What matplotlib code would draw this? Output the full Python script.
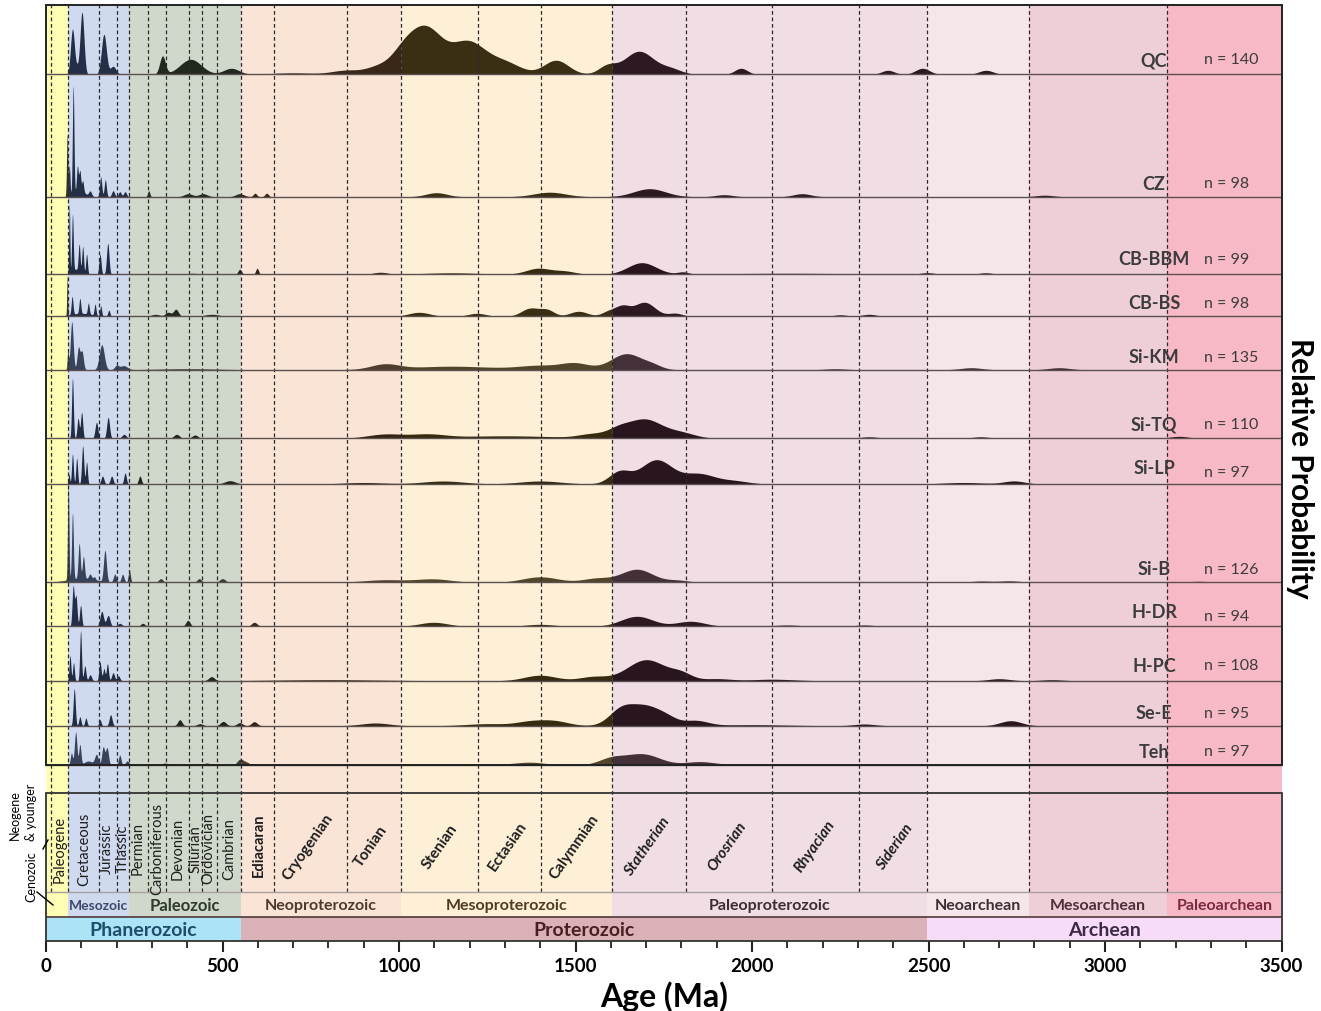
import numpy as np
import matplotlib.pyplot as plt
from matplotlib.patches import Rectangle
from matplotlib.lines import Line2D

plt.rcParams['font.family'] = ['Lato', 'DejaVu Sans']

# samples and number of dated grains
samples = ['QC', 'CZ', 'CB-BBM', 'CB-BS', 'Si-KM', 'Si-TQ', 'Si-LP', 'Si-B',
           'H-DR', 'H-PC', 'Se-E', 'Teh']
counts = [140, 98, 99, 98, 135, 110, 97, 126, 94, 108, 95, 97]

# age populations per sample: (age Ma, relative probability, spread Ma)
qc_peaks = [(75, 45, 5.5), (88, 6, 5), (102, 62, 5.5), (164, 40, 7), (190, 8, 8),
            (330, 18, 8), (410, 15, 30), (525, 6, 22), (700, 1.5, 60), (850, 4, 40),
            (940, 7, 35), (1010, 18, 35), (1076, 44, 45), (1195, 32, 50),
            (1300, 11, 45), (1445, 14, 35), (1590, 8, 25), (1680, 23, 42),
            (1770, 5, 30), (1969, 6, 18), (2385, 4, 18), (2483, 6, 20), (2663, 4, 20)]
cz_peaks = [(60, 62, 1.8), (66, 30, 2), (77, 108, 2.2), (89, 25, 2.5), (96, 20, 2.5),
            (104, 11, 2.5), (95, 6, 15), (125, 5, 4), (155, 20, 3), (168, 17, 3),
            (190, 6, 4), (209, 5, 4), (224, 5, 4), (291, 6, 3), (403, 3, 12),
            (445, 3, 12), (549, 3, 12), (592, 3.5, 5), (625, 3.5, 5), (1106, 4, 30),
            (1427, 4.5, 45), (1710, 8, 45), (1921, 2, 25), (2142, 3, 25), (2829, 1.5, 25)]
cbbbm_peaks = [(66, 70, 1.5), (75, 57, 2.2), (85, 5, 10), (94, 27, 2.5), (104, 27, 2.5),
               (115, 20, 2.5), (153, 20, 3), (175, 31, 3.5), (415, 1, 20), (549, 5, 5),
               (598, 6, 4), (947, 2, 20), (1150, 1.5, 80), (1395, 6, 35), (1470, 3, 30),
               (1688, 11.5, 40), (1804, 2, 15), (2100, 1, 200), (2497, 1.5, 20),
               (2662, 1.5, 20)]
cbbs_peaks = [(60, 40, 1.2), (74, 18, 2.5), (96, 15, 2.5), (100, 3, 30), (120, 11, 2.5),
              (139, 11, 2.5), (155, 10, 2.5), (178, 6, 3), (310, 2, 12), (346, 4, 8),
              (368, 7, 7), (470, 2, 20), (1057, 4, 30), (1221, 3, 25), (1372, 8, 25),
              (1420, 6, 20), (1509, 5, 25), (1595, 5, 20), (1633, 9, 20), (1695, 14, 30),
              (1783, 3, 20), (2250, 1.5, 20), (2332, 2, 20)]
sikm_peaks = [(62, 18, 2), (73, 48, 4), (92, 22, 4), (102, 18, 4), (158, 25, 7),
              (200, 4, 6), (220, 4, 10), (400, 1, 80), (960, 5, 40), (1150, 3.5, 120),
              (1400, 4, 60), (1500, 6, 40), (1645, 16, 45), (1720, 3, 25),
              (2236, 1, 30), (2621, 2, 30), (2870, 2, 30)]
sitq_peaks = [(75, 60, 2.5), (91, 20, 3), (101, 26, 3), (143, 16, 4), (176, 21, 4),
              (221, 4, 6), (370, 4, 8), (422, 3.3, 8), (960, 4, 50), (1080, 3.5, 50),
              (1300, 2.5, 150), (1550, 4, 40), (1620, 6, 30), (1695, 19, 50),
              (1800, 5, 40), (2332, 1.5, 25), (2648, 1.5, 25), (3210, 2, 25)]
silp_peaks = [(65, 10, 2), (75, 30, 2.5), (87, 26, 2.5), (104, 38, 3), (115, 22, 2.5),
              (160, 8, 4), (186, 8, 4), (224, 11, 3.5), (266, 8, 4), (521, 3.3, 15),
              (900, 1.5, 60), (1125, 3, 60), (1400, 3, 60), (1625, 12, 30),
              (1729, 24, 45), (1850, 10, 45), (1950, 3, 40), (2600, 1.5, 60), (2743, 3, 30)]
sib_peaks = [(63, 95, 2), (75, 66, 2.5), (94, 35, 3), (106, 22, 3), (100, 4, 40),
             (125, 5, 4), (137, 3, 3), (167, 31, 4), (195, 8, 4), (217, 8, 4),
             (236, 12, 3), (325, 3.7, 6), (434, 3.7, 6), (500, 3.7, 8), (960, 2.5, 60),
             (1098, 3.3, 50), (1400, 5.5, 50), (1560, 4, 40), (1674, 13, 45),
             (1790, 2, 30), (2648, 1.3, 30), (2730, 1.5, 30), (3265, 1, 30)]
hdr_peaks = [(77, 40, 3), (85, 30, 3), (98, 21, 3), (158, 15, 5), (176, 11, 5),
             (209, 3, 6), (274, 3, 6), (402, 6, 6), (590, 4, 8), (1098, 4, 40),
             (1400, 2, 40), (1674, 10, 45), (1826, 5, 40), (2099, 1.3, 40), (2318, 1.3, 30)]
hpc_peaks = [(68, 25, 2.5), (78, 18, 2.5), (98, 50, 2.5), (110, 15, 3), (125, 6, 4),
             (153, 19, 3), (164, 12, 3), (174, 17, 3), (190, 8, 4), (205, 5, 4),
             (469, 4, 8), (800, 1, 150), (1400, 5.5, 45), (1550, 4, 40), (1701, 21, 55),
             (1800, 6, 30), (1900, 2, 40), (2058, 1.5, 60), (2700, 2, 30), (2850, 1, 30)]
see_peaks = [(80, 37, 3), (96, 9, 3), (113, 7.7, 3), (153, 6, 3), (183, 11, 4),
             (379, 6, 6), (436, 2, 8), (502, 4.3, 8), (549, 3, 8), (590, 4, 8),
             (933, 2.7, 40), (1250, 2, 60), (1372, 4, 40), (1441, 4.5, 40),
             (1630, 16, 35), (1700, 18, 40), (1760, 6, 30), (1840, 5, 35),
             (2000, 1, 100), (2318, 1.7, 30), (2733, 5, 30)]
teh_peaks = [(72, 12, 3), (84, 33, 3.5), (96, 20, 3), (120, 4, 12), (143, 10, 5),
             (162, 18, 4), (173, 17, 4), (209, 10, 3.5), (230, 4, 5), (294, 1, 10),
             (337, 2, 8), (455, 2, 10), (549, 5, 8), (565, 3, 10), (1100, 1.3, 200),
             (1372, 2.3, 40), (1600, 6, 35), (1688, 11, 50), (1852, 3, 40),
             (2100, 0.8, 200)]

all_peaks = [qc_peaks, cz_peaks, cbbbm_peaks, cbbs_peaks, sikm_peaks, sitq_peaks,
             silp_peaks, sib_peaks, hdr_peaks, hpc_peaks, see_peaks, teh_peaks]

# geological time scale (Ma)
era_edges = [0, 61, 236, 553, 1005, 1604, 2497, 2785, 3176, 3500]
era_names = ['', 'Mesozoic', 'Paleozoic', 'Neoproterozoic', 'Mesoproterozoic',
             'Paleoproterozoic', 'Neoarchean', 'Mesoarchean', 'Paleoarchean']
eon_edges = [0, 553, 2497, 3500]
eon_names = ['Phanerozoic', 'Proterozoic', 'Archean']
period_bounds = [14, 61, 151, 202, 236, 290, 341, 405, 442, 485, 553, 646, 853,
                 1005, 1225, 1403, 1604, 1812, 2056, 2302, 2497, 2785, 3176]
phan_periods = ['Paleogene', 'Cretaceous', 'Jurassic', 'Triassic', 'Permian',
                'Carboniferous', 'Devonian', 'Silurian', 'Ordovician', 'Cambrian']
phan_period_mid = [40, 108, 173, 218, 260, 314, 374, 425, 459, 518]
pc_periods = ['Cryogenian', 'Tonian', 'Stenian', 'Ectasian', 'Calymmian',
              'Statherian', 'Orosrian', 'Rhyacian', 'Siderian']
pc_period_mid = [742, 920, 1115, 1308, 1497, 1704, 1930, 2179, 2406]

# colours
era_colors = ['#fdfdb4', '#cfdaef', '#d0d8cb', '#f9e4d6', '#fdf0d6', '#f0dee4',
              '#f5e6e9', '#eecfd8', '#f8b9c7']
era_fill_colors = ['#24240a', '#17213a', '#141c12', '#2a1808', '#2b2004', '#1e0a12',
                   '#1e0a12', '#1e0a12', '#240a14']
era_text_colors = ['k', '#3b4a6b', '#2f3a2c', '#4d3a2e', '#4a3d22', '#3d2c33',
                   '#3a3034', '#4d2f3a', '#7a2a40']
era_text_sizes = [9, 10, 12, 11.5, 11.5, 11.5, 11.5, 11.5, 11.5]
eon_colors = ['#ade3f6', '#dab1b7', '#f7dcf7']
eon_text_colors = ['#1d4e6b', '#4a1f22', '#3d2b45']
fill_alpha = [0.93, 0.93, 0.95, 0.93, 0.82, 0.95, 0.95, 0.82, 0.93, 0.95, 0.95, 0.82]

# row layout (canvas pixel rows)
panel_top = 5.5
row_heights = [69.8, 122.4, 77.6, 42, 53.4, 68.6, 45.7, 98.3, 44, 54.4, 45, 39.3]
name_offsets = [14, 13, 15.5, 14, 13, 14.5, 16, 13.5, 14.5, 15.5, 13, 13.5]
n_offsets = [15, 13.5, 15.5, 13, 13, 14.5, 12, 13.5, 10.5, 15.5, 13, 13.5]
baselines = panel_top + np.cumsum(row_heights)
panel_bottom = baselines[-1]
ts_top, ts_era, ts_eon, ts_bottom = 794.5, 893.3, 917.7, 942.3

W, H = 1321, 1012
fig = plt.figure(figsize=(W / 100, H / 100), dpi=100)
ax = fig.add_axes([46 / W, 1 - ts_bottom / H, (1281.5 - 46) / W, (ts_bottom - panel_top) / H])
ax.set_xlim(0, 3500)
ax.set_ylim(ts_bottom, panel_top)
for s in ax.spines.values():
    s.set_visible(False)
ax.set_yticks([])

# coloured era bands behind everything
for i in range(len(era_names)):
    ax.add_patch(Rectangle((era_edges[i], panel_top), era_edges[i + 1] - era_edges[i],
                           ts_eon - panel_top, facecolor=era_colors[i], lw=0, zorder=0))
    if era_names[i]:
        ax.text((era_edges[i] + era_edges[i + 1]) / 2, (ts_era + ts_eon) / 2 + 0.5, era_names[i],
                ha='center', va='center', fontsize=era_text_sizes[i], fontweight='bold',
                color=era_text_colors[i], zorder=6)
for i in range(len(eon_names)):
    ax.add_patch(Rectangle((eon_edges[i], ts_eon), eon_edges[i + 1] - eon_edges[i],
                           ts_bottom - ts_eon, facecolor=eon_colors[i], lw=0, zorder=0))
    ax.text((eon_edges[i] + eon_edges[i + 1]) / 2, (ts_eon + ts_bottom) / 2 + 0.5, eon_names[i],
            ha='center', va='center', fontsize=14, fontweight='bold',
            color=eon_text_colors[i], zorder=6)

# period boundaries
for b in period_bounds:
    ax.plot([b, b], [panel_top, ts_era], color='#2a2a2a', lw=0.9, ls=(0, (3, 2.2)), zorder=4)

# probability curves, tinted by the era they fall in
ages = np.linspace(0, 3500, 7001)
for i, peaks in enumerate(all_peaks):
    dens = np.zeros_like(ages)
    for age, h, w in peaks:
        dens += h * np.exp(-0.5 * ((ages - age) / w) ** 2)
    base = baselines[i]
    for k in range(len(era_names)):
        seg = (ages >= era_edges[k]) & (ages <= era_edges[k + 1])
        ax.fill_between(ages[seg], base, base - dens[seg], color=era_fill_colors[k],
                        alpha=fill_alpha[i], lw=0, zorder=3)
    ax.plot([0, 3500], [base, base], color='#5a5050', lw=1.0, zorder=5)
    ax.text(3139, base - name_offsets[i], samples[i], ha='center', va='center', fontsize=13,
            fontweight='bold', color='#3c3c3c', zorder=6)
    ax.text(3280, base - n_offsets[i], 'n = {0}'.format(counts[i]), ha='left', va='center',
            fontsize=11.5, color='#3c3c3c', zorder=6)

# panel frames
ax.add_patch(Rectangle((0, panel_top), 3500, panel_bottom - panel_top, fill=False,
                       edgecolor='#222222', lw=1.4, zorder=7, clip_on=False))
ax.add_patch(Rectangle((0, ts_top), 3500, ts_bottom - ts_top, fill=False,
                       edgecolor='#333333', lw=1.3, zorder=7, clip_on=False))
ax.plot([0, 3500], [ts_era, ts_era], color='#a8a0a0', lw=1.0, zorder=6)
ax.plot([0, 3500], [ts_eon, ts_eon], color='#503838', lw=1.2, zorder=6)

# period names
for name, mid in zip(phan_periods, phan_period_mid):
    ax.text(mid, 849, name, rotation=90, ha='center', va='center', fontsize=10.5,
            color='#1e1e1e', zorder=6)
ax.text(604, 845, 'Ediacaran', rotation=90, ha='center', va='center', fontsize=10.5,
        fontweight='bold', color='#1e1e1e', zorder=6)
for j, (name, mid) in enumerate(zip(pc_periods, pc_period_mid)):
    ax.text(mid, 847, name, rotation=55, ha='center', va='center', fontsize=11,
            fontweight='bold', style='italic' if j >= 5 else 'normal',
            color='#1e1e1e', zorder=6, rotation_mode='anchor')

# Cenozoic notes left of the scale
fig.text(15 / W, 1 - 815 / H, 'Neogene', rotation=90, ha='center', va='center', fontsize=9)
fig.text(31 / W, 1 - 812 / H, '& younger', rotation=90, ha='center', va='center', fontsize=9)
fig.text(31 / W, 1 - 877 / H, 'Cenozoic', rotation=90, ha='center', va='center', fontsize=9)
fig.add_artist(Line2D([43 / W, 48 / W], [1 - 850 / H, 1 - 841 / H], color='k', lw=1))
fig.add_artist(Line2D([37 / W, 53 / W], [1 - 893 / H, 1 - 906 / H], color='k', lw=1))

# x axis
ax.set_xticks(np.arange(0, 3501, 500))
ax.set_xticks(np.arange(0, 3501, 100), minor=True)
ax.tick_params(axis='x', which='major', direction='out', length=8, width=1.5,
               labelsize=13.5, pad=3, color='#222222')
ax.tick_params(axis='x', which='minor', direction='out', length=5, width=1.3, color='#222222')
for lbl in ax.get_xticklabels():
    lbl.set_fontweight('bold')
ax.set_xlabel('Age (Ma)', fontsize=23, fontweight='bold', labelpad=5)

fig.text(1300 / W, 1 - 468 / H, 'Relative Probability', rotation=-90, ha='center',
         va='center', fontsize=21.5, fontweight='bold')

fig.savefig('out.png', dpi=100)
